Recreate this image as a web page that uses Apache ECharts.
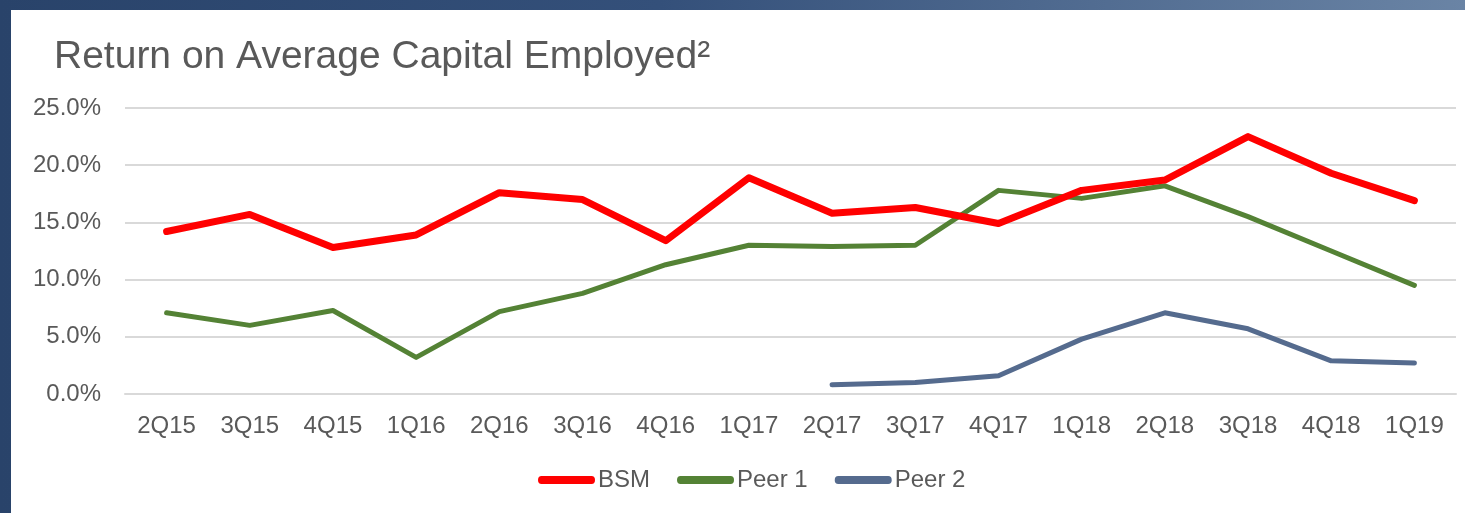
<!DOCTYPE html>
<html>
<head>
<meta charset="utf-8">
<script src="https://cdn.jsdelivr.net/npm/echarts@6/dist/echarts.min.js"></script>
<style>
html,body{margin:0;padding:0;}
body{width:1465px;height:513px;overflow:hidden;background:linear-gradient(90deg,#29436a 0%,#34507a 45%,#6a84a5 100%);}
#panel{position:absolute;left:11px;top:10px;width:1454px;height:503px;background:#ffffff;}
#chart{position:absolute;left:0;top:0;width:1465px;height:513px;}
</style>
</head>
<body>
<div id="panel"></div>
<div id="chart"></div>
<script>
const categories = ['2Q15','3Q15','4Q15','1Q16','2Q16','3Q16','4Q16','1Q17','2Q17','3Q17','4Q17','1Q18','2Q18','3Q18','4Q18','1Q19'];
const bsm   = [14.2, 15.7, 12.8, 13.9, 17.6, 17.0, 13.4, 18.9, 15.8, 16.3, 14.9, 17.8, 18.7, 22.5, 19.3, 16.9];
const peer1 = [7.1, 6.0, 7.3, 3.2, 7.2, 8.8, 11.3, 13.0, 12.9, 13.0, 17.8, 17.1, 18.2, 15.5, 12.5, 9.5];
const peer2 = [null, null, null, null, null, null, null, null, 0.8, 1.0, 1.6, 4.8, 7.1, 5.7, 2.9, 2.7];
const yTicks = [0, 5, 10, 15, 20, 25];
const seriesNames = ['BSM', 'Peer 1', 'Peer 2'];
const titleText = 'Return on Average Capital Employed\u00B2';

const FONT = '"Liberation Sans", Arial, sans-serif';
const TXT = '#595959';
const capsule = 'path://M3.5,0 H53.5 A3.5,3.5 0 0 1 53.5,7 H3.5 A3.5,3.5 0 0 1 3.5,0 Z';

const chart = echarts.init(document.getElementById('chart'), null, {renderer: 'canvas'});
chart.setOption({
  backgroundColor: 'transparent',
  animation: false,
  title: {
    text: titleText,
    left: 49, top: 33,
    textStyle: {fontFamily: FONT, fontSize: 39, fontWeight: 'normal', color: TXT}
  },
  legend: {
    left: 533, top: 463,
    itemWidth: 57, itemHeight: 8, itemGap: 27,
    symbolKeepAspect: false,
    textStyle: {fontFamily: FONT, fontSize: 24, color: TXT, padding: [0,0,0,-2]},
    data: seriesNames.map(n => ({name: n, icon: capsule}))
  },
  grid: {left: 125, right: 9, top: 108, bottom: 119, containLabel: false},
  xAxis: {
    type: 'category',
    data: categories,
    boundaryGap: true,
    axisLine: {show: true, lineStyle: {color: '#d9d9d9', width: 2}},
    axisTick: {show: false},
    axisLabel: {fontFamily: FONT, fontSize: 24, color: TXT, margin: 20, interval: 0}
  },
  yAxis: {
    type: 'value',
    min: yTicks[0], max: yTicks[yTicks.length-1], interval: 5,
    axisLine: {show: false},
    axisTick: {show: false},
    splitLine: {lineStyle: {color: '#d9d9d9', width: 2}},
    axisLabel: {fontFamily: FONT, fontSize: 24, color: TXT, margin: 24,
      formatter: v => v.toFixed(1) + '%'}
  },
  series: [
    {name: seriesNames[0], type: 'line', data: bsm, symbol: 'none', z: 4,
     itemStyle: {color: '#ff0000'},
     lineStyle: {color: '#ff0000', width: 7, cap: 'round', join: 'round'}},
    {name: seriesNames[1], type: 'line', data: peer1, symbol: 'none', z: 3,
     itemStyle: {color: '#548235'},
     lineStyle: {color: '#548235', width: 5, cap: 'round', join: 'round'}},
    {name: seriesNames[2], type: 'line', data: peer2, symbol: 'none', z: 2,
     itemStyle: {color: '#556b8e'},
     lineStyle: {color: '#556b8e', width: 5, cap: 'round', join: 'round'}}
  ]
});
</script>
</body>
</html>
